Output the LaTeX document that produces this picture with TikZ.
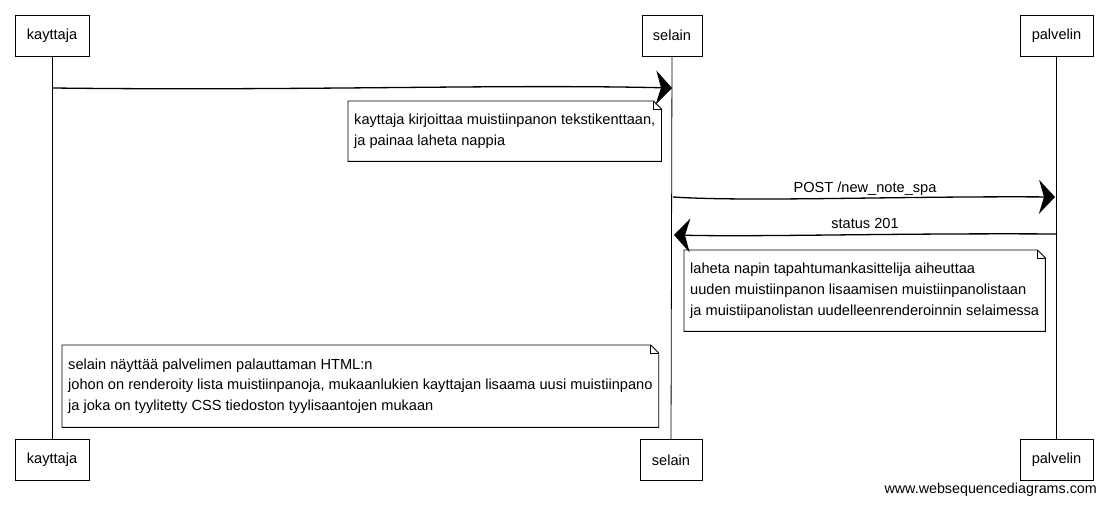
\documentclass[tikz,border=0pt]{standalone}
\usepackage{fontspec}
\setmainfont{Liberation Sans}
\usetikzlibrary{arrows.meta}
\begin{document}
\begin{tikzpicture}[x=1pt,y=-1pt,
  actor/.style={draw, line width=0.9pt, minimum height=41pt, inner sep=0pt, font=\fontsize{14.6}{16}\selectfont},
  life/.style={line width=0.8pt},
  msg/.style={line width=1.3pt, -{Stealth[length=16pt,width=34pt,inset=5pt]}},
  notebox/.style={align=left, inner xsep=6pt, inner ysep=0pt, anchor=north west, font=\fontsize{14.6}{20.8}\selectfont},
  lbl/.style={font=\fontsize{14.6}{16}\selectfont, anchor=base, inner sep=0pt}
]
\useasboundingbox (0,0) rectangle (1105,505);
% participants
\node[actor, minimum width=74pt] (kt) at (52,35.5) {kayttaja};
\node[actor, minimum width=60pt] (st) at (672,35.5) {selain};
\node[actor, minimum width=73pt] (pt) at (1056.5,35.5) {palvelin};
\node[actor, minimum width=74pt] (kb) at (52,460) {kayttaja};
\node[actor, minimum width=62pt] (sb) at (671,460) {selain};
\node[actor, minimum width=73pt] (pb) at (1056.5,460) {palvelin};
% lifelines
\draw[life] (kt.south) -- (kb.north);
\draw[life] (st.south) -- (sb.north);
\draw[life] (pt.south) -- (pb.north);
% message 1
\coordinate (m1s) at (53,88);
\coordinate (m1e) at (672,88);
\draw[msg] (m1s) .. controls (300,91) and (500,84) .. (m1e);
% note 1
\node[notebox, minimum height=60pt] (n1) at (348,101)
  {kayttaja kirjoittaa muistiinpanon tekstikenttaan,\\ja painaa laheta nappia};
% message 2
\coordinate (m2s) at (673,197);
\coordinate (m2e) at (1055,197);
\draw[msg] (m2s) .. controls (750,202) and (900,196) .. (m2e);
\node[lbl] (l2) at (865,193) {POST /new\_note\_spa};
% message 3
\coordinate (m3s) at (1057,234);
\coordinate (m3e) at (674,235);
\draw[msg] (m3s) .. controls (900,233) and (760,237) .. (m3e);
\node[lbl] (l3) at (865,228) {status 201};
% note 2
\node[notebox, minimum height=81pt] (n2) at (684,250)
  {laheta napin tapahtumankasittelija aiheuttaa\\uuden muistiinpanon lisaamisen muistiinpanolistaan\\ja muistiipanolistan uudelleenrenderoinnin selaimessa};
% note 3
\node[notebox, minimum height=82pt] (n3) at (62,345)
  {selain näyttää palvelimen palauttaman HTML:n\\johon on renderoity lista muistiinpanoja, mukaanlukien kayttajan lisaama uusi muistiinpano\\ja joka on tyylitetty CSS tiedoston tyylisaantojen mukaan};
% note outlines
\foreach \n in {n1,n2,n3}{
  \draw[line width=0.9pt] (\n.north west) -- ([xshift=-8pt]\n.north east) -- ([yshift=-8pt]\n.north east) -- (\n.south east) -- (\n.south west) -- cycle;
  \draw[line width=0.5pt] ([xshift=-8pt]\n.north east) |- ([yshift=-8pt]\n.north east);
}
% watermark
\node[anchor=east, inner sep=0pt, font=\fontsize{14.3}{16}\selectfont] (wm) at (1097,490) {www.websequencediagrams.com};
\end{tikzpicture}
\end{document}
